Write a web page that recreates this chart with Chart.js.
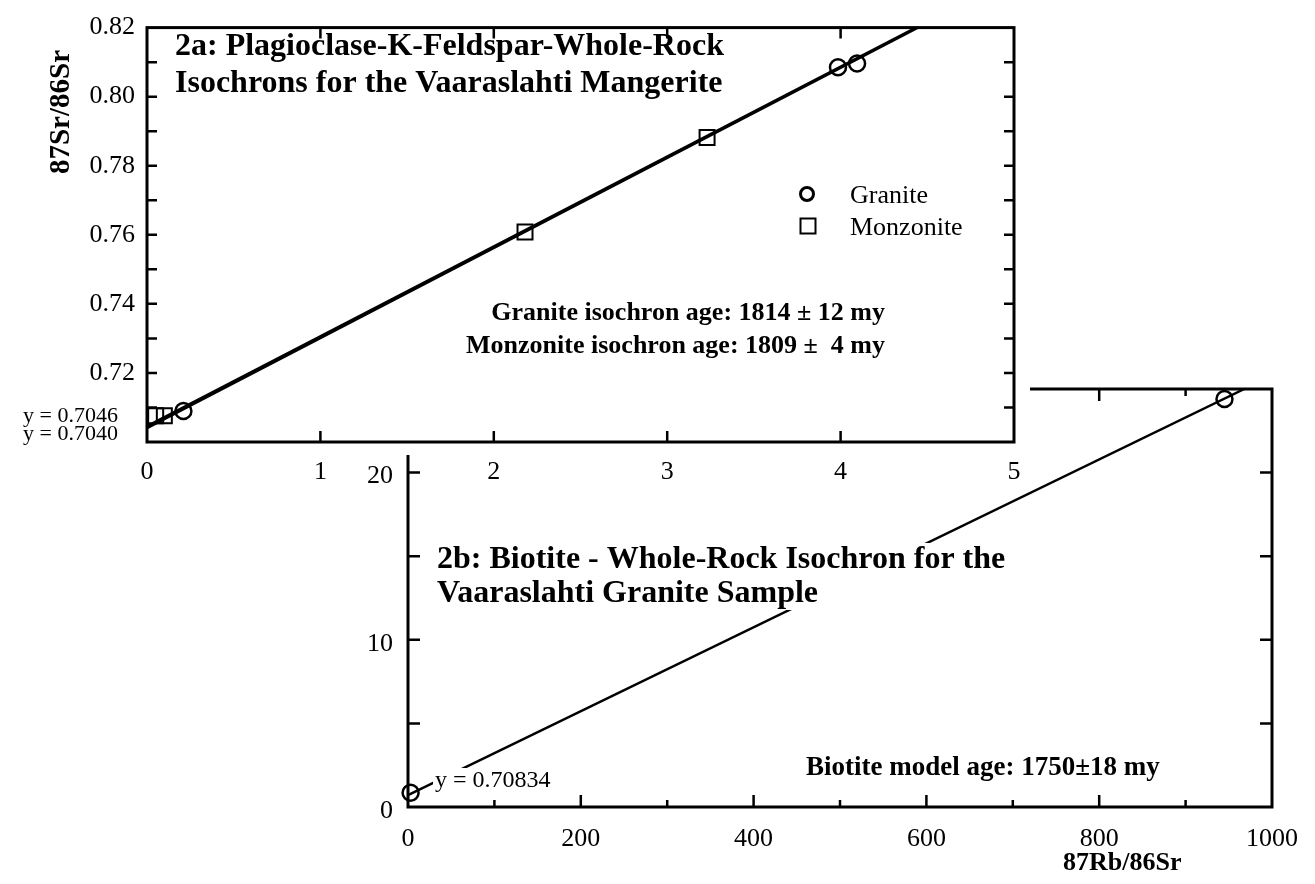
<!DOCTYPE html>
<html><head><meta charset="utf-8">
<script src="https://cdn.jsdelivr.net/npm/chart.js@4.4.1/dist/chart.umd.min.js"></script>
<style>
html,body{margin:0;padding:0;background:#fff;}
#wrap{position:relative;width:1315px;height:884px;overflow:hidden;}
canvas{position:absolute;left:0;top:0;}
</style></head><body>
<div id="wrap"><canvas id="c2b" width="1315" height="884"></canvas><canvas id="c2a" width="1315" height="884"></canvas></div>
<script>
// ---------- Figure 2a data ----------
const graniteRbSr = [0.21, 3.985, 4.095];
const graniteSr = [0.7090, 0.8085, 0.8096];
const monzoniteRbSr = [0.05, 0.10, 2.18, 3.23];
const monzoniteSr = [0.7076, 0.7076, 0.7608, 0.7882];
const isochronX = [0, 4.6];
const graniteIsochronY = [0.7040, 0.8240];
const monzoniteIsochronY = [0.7046, 0.8243];
const aXTicks = [0, 1, 2, 3, 4, 5];
const aXLabels = ['0', '1', '2', '3', '4', '5'];
const aYTicks = [0.70, 0.71, 0.72, 0.73, 0.74, 0.75, 0.76, 0.77, 0.78, 0.79, 0.80, 0.81, 0.82];
const aYLabels = ['0.72', '0.74', '0.76', '0.78', '0.80', '0.82'];

// ---------- Figure 2b data ----------
const biotiteRbSr = [3, 945];
const biotiteSr = [0.85, 24.4];
const biotiteLineX = [0, 968];
const biotiteLineY = [0.70834, 25];
const bXTicks = [0, 100, 200, 300, 400, 500, 600, 700, 800, 900, 1000];
const bXLabels = ['0', '200', '400', '600', '800', '1000'];
const bYTicks = [0, 5, 10, 15, 20, 25];
const bYLabels = ['0', '10', '20'];

const SERIF = "'Liberation Serif','Times New Roman',Times,serif";
Chart.defaults.font.family = SERIF;
Chart.defaults.color = '#000';

function pts(xs, ys) { return xs.map((x, i) => ({ x: x, y: ys[i] })); }
function fixedTicks(list) { return function (scale) { scale.ticks = list.map(v => ({ value: v })); }; }

const whiteout = {
  id: 'whiteout',
  beforeDraw(chart, args, o) {
    if (!o || !o.w) return;
    const ctx = chart.ctx;
    ctx.save(); ctx.fillStyle = '#fff'; ctx.fillRect(0, 0, o.w, o.h); ctx.restore();
  }
};

const frameTicks = {
  id: 'frameTicks',
  beforeDatasetsDraw(chart, args, o) {
    const ctx = chart.ctx, a = chart.chartArea;
    const xs = chart.scales.x, ys = chart.scales.y;
    ctx.save();
    ctx.strokeStyle = '#000';
    ctx.lineWidth = o.frameWidth;
    ctx.strokeRect(a.left, a.top, a.right - a.left, a.bottom - a.top);
    ctx.lineWidth = o.tickWidth;
    ctx.beginPath();
    xs.ticks.forEach(t => {
      const p = xs.getPixelForValue(t.value);
      if (p <= a.left + 2 || p >= a.right - 2) return;
      const L = (Math.round(t.value) % o.xMajorStep === 0) ? o.xMajorLen : o.xMinorLen;
      ctx.moveTo(p, a.bottom); ctx.lineTo(p, a.bottom - L);
      ctx.moveTo(p, a.top); ctx.lineTo(p, a.top + L);
    });
    ys.ticks.forEach(t => {
      const p = ys.getPixelForValue(t.value);
      if (p <= a.top + 2 || p >= a.bottom - 2) return;
      const L = o.yLen;
      ctx.moveTo(a.left, p); ctx.lineTo(a.left + L, p);
      ctx.moveTo(a.right, p); ctx.lineTo(a.right - L, p);
    });
    ctx.stroke();
    ctx.restore();
  }
};

const notes = {
  id: 'notes',
  afterDatasetsDraw(chart, args, o) {
    const ctx = chart.ctx;
    (o.items || []).forEach(it => {
      ctx.save();
      ctx.font = it.font;
      ctx.textAlign = it.align || 'left';
      ctx.textBaseline = 'alphabetic';
      const lines = it.lines;
      if (it.rotate) {
        ctx.translate(it.x, it.y);
        ctx.rotate(-Math.PI / 2);
        ctx.textAlign = 'center';
        ctx.textBaseline = 'middle';
        ctx.fillStyle = '#000';
        ctx.fillText(lines[0], 0, 0);
        ctx.restore();
        return;
      }
      if (it.bg) {
        const w = Math.max.apply(null, lines.map(l => ctx.measureText(l).width));
        let x0 = it.x;
        if (ctx.textAlign === 'right') x0 = it.x - w;
        else if (ctx.textAlign === 'center') x0 = it.x - w / 2;
        ctx.fillStyle = '#fff';
        ctx.fillRect(x0 - it.bg[0], it.y - it.bg[1], w + 2 * it.bg[0], (lines.length - 1) * (it.lh || 0) + it.bg[1] + it.bg[2]);
      }
      ctx.fillStyle = '#000';
      lines.forEach((l, i) => ctx.fillText(l, it.x, it.y + i * (it.lh || 0)));
      ctx.restore();
    });
    (o.markers || []).forEach(m => {
      ctx.save();
      ctx.strokeStyle = '#000';
      ctx.lineWidth = m.lw;
      ctx.beginPath();
      if (m.shape === 'circle') ctx.arc(m.x, m.y, m.r, 0, Math.PI * 2);
      else ctx.rect(m.x - m.r, m.y - m.r, 2 * m.r, 2 * m.r);
      ctx.stroke();
      ctx.restore();
    });
  }
};

Chart.register(whiteout, frameTicks, notes);

// ---------- Chart 2b (underneath) ----------
new Chart(document.getElementById('c2b'), {
  type: 'scatter',
  data: {
    datasets: [
      { label: 'Biotite isochron', data: pts(biotiteLineX, biotiteLineY), showLine: true, pointRadius: 0,
        borderColor: '#000', borderWidth: 2.5, clip: 0 },
      { label: 'Biotite / whole rock', data: pts(biotiteRbSr, biotiteSr), pointStyle: 'circle', pointRadius: 8,
        borderColor: '#000', backgroundColor: 'rgba(0,0,0,0)', borderWidth: 2.5, clip: false }
    ]
  },
  options: {
    responsive: false, animation: false, events: [],
    layout: { padding: { left: 0, top: 389, right: 43, bottom: 17 } },
    scales: {
      x: { type: 'linear', min: 0, max: 1000, afterBuildTicks: fixedTicks(bXTicks),
           afterFit: s => { s.height = 60; },
           grid: { display: false, drawTicks: false }, border: { display: false },
           ticks: { autoSkip: false, maxRotation: 0, padding: 17, font: { size: 26 },
                    callback: v => bXLabels.includes(String(v)) ? String(v) : '' } },
      y: { type: 'linear', min: 0, max: 25, afterBuildTicks: fixedTicks(bYTicks),
           afterFit: s => { s.width = 408; },
           grid: { display: false, drawTicks: false }, border: { display: false },
           ticks: { autoSkip: false, padding: 15, labelOffset: 4, font: { size: 26 },
                    callback: v => bYLabels.includes(String(v)) ? String(v) : '' } }
    },
    plugins: {
      legend: { display: false }, tooltip: { enabled: false },
      frameTicks: { frameWidth: 3, tickWidth: 2.5, xMajorStep: 200, xMajorLen: 12, xMinorLen: 7, yLen: 12 },
      notes: {
        items: [
          { lines: ['2b: Biotite - Whole-Rock Isochron for the', 'Vaaraslahti Granite Sample'], x: 437, y: 568, lh: 34,
            font: 'bold 32px ' + SERIF, bg: [3, 25, 8] },
          { lines: ['y = 0.70834'], x: 435, y: 787, font: '24px ' + SERIF, bg: [2, 19, 5] },
          { lines: ['Biotite model age: 1750\u00b118 my'], x: 806, y: 775, font: 'bold 27px ' + SERIF },
          { lines: ['87Rb/86Sr'], x: 1063, y: 870, font: 'bold 26px ' + SERIF }
        ]
      }
    }
  }
});

// ---------- Chart 2a (on top) ----------
new Chart(document.getElementById('c2a'), {
  type: 'scatter',
  data: {
    datasets: [
      { label: 'Granite isochron', data: pts(isochronX, graniteIsochronY), showLine: true, pointRadius: 0,
        borderColor: '#000', borderWidth: 2.5, clip: 0 },
      { label: 'Monzonite isochron', data: pts(isochronX, monzoniteIsochronY), showLine: true, pointRadius: 0,
        borderColor: '#000', borderWidth: 2.5, clip: 0 },
      { label: 'Granite', data: pts(graniteRbSr, graniteSr), pointStyle: 'circle', pointRadius: 8,
        borderColor: '#000', backgroundColor: 'rgba(0,0,0,0)', borderWidth: 2.5, clip: false },
      { label: 'Monzonite', data: pts(monzoniteRbSr, monzoniteSr), pointStyle: 'rect', pointRadius: 10.6,
        borderColor: '#000', backgroundColor: 'rgba(0,0,0,0)', borderWidth: 2, clip: false }
    ]
  },
  options: {
    responsive: false, animation: false, events: [],
    layout: { padding: { left: 0, top: 16, right: 301, bottom: 382 } },
    scales: {
      x: { type: 'linear', min: 0, max: 5, afterBuildTicks: fixedTicks(aXTicks),
           afterFit: s => { s.height = 60; },
           grid: { display: false, drawTicks: false }, border: { display: false },
           ticks: { autoSkip: false, maxRotation: 0, padding: 15, font: { size: 26 },
                    callback: v => aXLabels.includes(String(v)) ? String(v) : '' } },
      y: { type: 'linear', min: 0.70, max: 0.82, afterBuildTicks: fixedTicks(aYTicks),
           afterFit: s => { s.width = 147; },
           grid: { display: false, drawTicks: false }, border: { display: false },
           ticks: { autoSkip: false, padding: 12, font: { size: 26 },
                    callback: v => { const s = v.toFixed(2); return aYLabels.includes(s) ? s : ''; } } }
    },
    plugins: {
      legend: { display: false }, tooltip: { enabled: false },
      whiteout: { w: 1030, h: 455 },
      frameTicks: { frameWidth: 3, tickWidth: 2.5, xMajorStep: 1, xMajorLen: 11, xMinorLen: 11, yLen: 10 },
      notes: {
        items: [
          { lines: ['2a: Plagioclase-K-Feldspar-Whole-Rock', 'Isochrons for the Vaaraslahti Mangerite'], x: 175, y: 55, lh: 37,
            font: 'bold 32px ' + SERIF },
          { lines: ['y = 0.7046'], x: 118, y: 422, align: 'right', font: '22px ' + SERIF },
          { lines: ['y = 0.7040'], x: 118, y: 440, align: 'right', font: '22px ' + SERIF },
          { lines: ['Granite isochron age: 1814 \u00b1 12 my'], x: 885, y: 320, align: 'right', font: 'bold 26px ' + SERIF },
          { lines: ['Monzonite isochron age: 1809 \u00b1  4 my'], x: 885, y: 353, align: 'right', font: 'bold 26px ' + SERIF },
          { lines: ['Granite'], x: 850, y: 203, font: '26px ' + SERIF },
          { lines: ['Monzonite'], x: 850, y: 235, font: '26px ' + SERIF },
          { lines: ['87Sr/86Sr'], x: 62, y: 112, rotate: true, font: 'bold 29px ' + SERIF }
        ],
        markers: [
          { shape: 'circle', x: 807, y: 194, r: 6.5, lw: 3 },
          { shape: 'rect', x: 808, y: 226, r: 7.5, lw: 2 }
        ]
      }
    }
  }
});
</script>
</body></html>
